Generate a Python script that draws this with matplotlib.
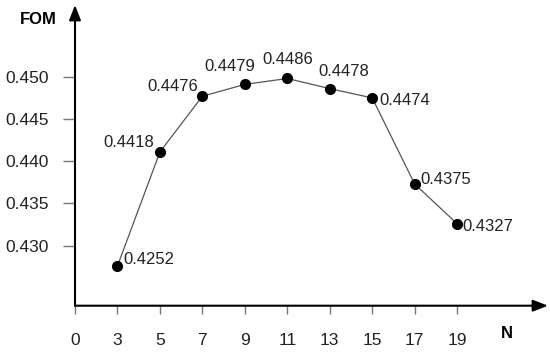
import matplotlib
matplotlib.use("Agg")
import matplotlib.pyplot as plt

# N values shown on the x axis (drawn at evenly spaced slots)
tick_labels = ["0", "3", "5", "7", "9", "11", "13", "15", "17", "19"]
n_values = ["3", "5", "7", "9", "11", "13", "15", "17", "19"]
# marker heights
fom_plotted = [0.4276, 0.4411, 0.4477, 0.4491, 0.4498, 0.4486, 0.4475, 0.4373, 0.4326]
# printed labels next to each point
fom_labels = ["0.4252", "0.4418", "0.4476", "0.4479", "0.4486", "0.4478", "0.4474", "0.4375", "0.4327"]
y_ticks = [0.430, 0.435, 0.440, 0.445, 0.450]

# label offsets in points (dx, dy, ha)
label_offsets = [
    (4, 5, "left"), (-4, 7, "right"), (-3, 7, "right"),
    (-11, 13, "center"), (0, 14, "center"), (10, 12, "center"),
    (5, -2, "left"), (4, 3, "left"), (4, -2, "left"),
]

plt.rcParams["font.family"] = ["Liberation Sans", "DejaVu Sans"]

fig = plt.figure(figsize=(5.5, 3.53), dpi=100)
ax = fig.add_axes([75 / 550, 47.3 / 353, (548 - 75) / 550, (305.7 - 5) / 353])

pos = [tick_labels.index(n) for n in n_values]
ax.plot(pos, fom_plotted, color="#555555", lw=0.9, zorder=2)
ax.plot(pos, fom_plotted, "o", color="black", ms=7, zorder=3)

for x, y, lab, (dx, dy, ha) in zip(pos, fom_plotted, fom_labels, label_offsets):
    ax.annotate(lab, (x, y), xytext=(dx, dy), textcoords="offset points",
                ha=ha, va="center", fontsize=12, color="#222222")

ax.set_xlim(0, 11.14)
ax.set_ylim(0.4229, 0.4585)

ax.set_xticks(range(len(tick_labels)))
ax.set_xticklabels(tick_labels)
ax.set_yticks(y_ticks)
ax.set_yticklabels([f"{v:.3f}" for v in y_ticks])

for s in ax.spines.values():
    s.set_visible(False)

ax.tick_params(axis="x", direction="out", length=5.8, width=1, color="#777777",
               labelsize=12.5, pad=14, labelcolor="#222222")
ax.tick_params(axis="y", direction="out", length=8.6, width=1, color="#777777",
               labelsize=12.5, pad=10.5, labelcolor="#222222")

arrow = dict(arrowstyle="-|>,head_length=0.9,head_width=0.35", color="black", lw=1.5,
             shrinkA=0, shrinkB=0)
ax.annotate("", xy=(1, 0), xytext=(0, 0), xycoords="axes fraction", arrowprops=arrow)
ax.annotate("", xy=(0, 1), xytext=(0, 0), xycoords="axes fraction", arrowprops=arrow)

fig.text(38 / 550, 1 - 20 / 353, "FOM", fontsize=12, fontweight="bold", ha="center", va="center")
fig.text(507 / 550, 1 - 333 / 353, "N", fontsize=12, fontweight="bold", ha="center", va="center")

fig.savefig("out.png", dpi=100)
